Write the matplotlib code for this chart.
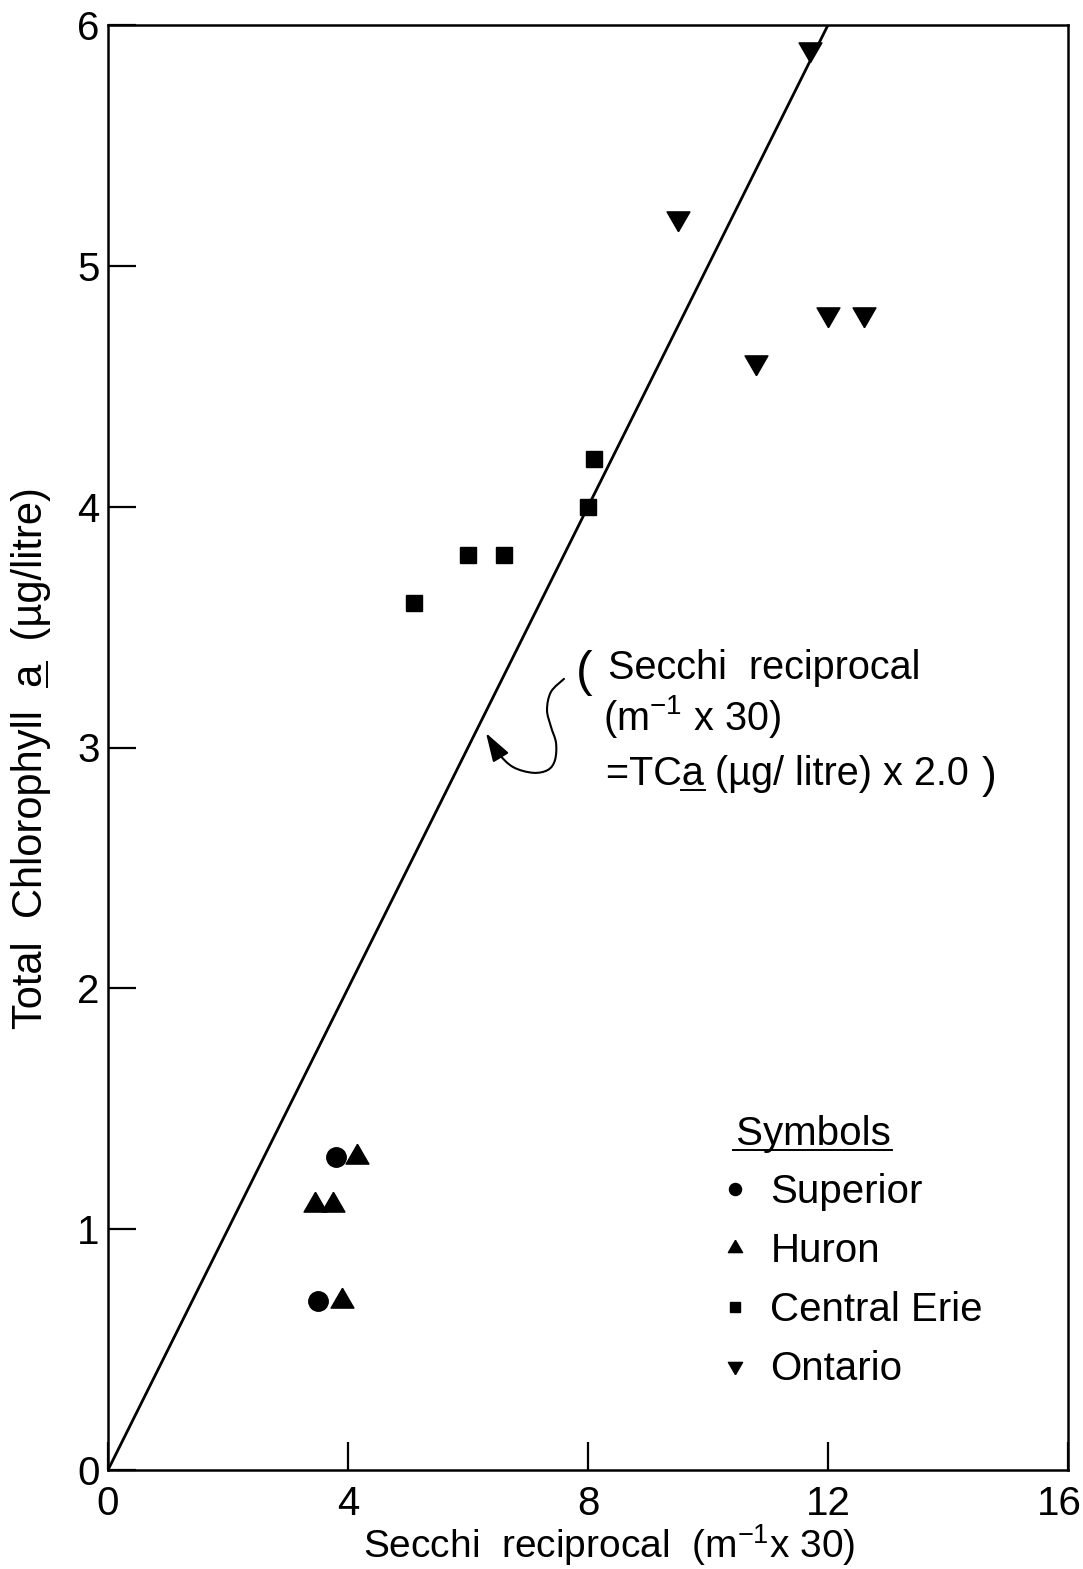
import matplotlib
matplotlib.use('Agg')
import matplotlib.pyplot as plt
import matplotlib.transforms as mtransforms
import numpy as np
from matplotlib.path import Path
from matplotlib.patches import FancyArrowPatch
from matplotlib.lines import Line2D

plt.rcParams['font.family'] = ['Liberation Sans', 'DejaVu Sans']
plt.rcParams['mathtext.fontset'] = 'custom'
plt.rcParams['mathtext.rm'] = 'Liberation Sans'
plt.rcParams['mathtext.it'] = 'Liberation Sans:italic'
plt.rcParams['mathtext.default'] = 'regular'

# ---------------- data ----------------
superior_x = [3.5, 3.8]
superior_y = [0.7, 1.3]
huron_x = [3.9, 4.15, 3.45, 3.75]
huron_y = [0.7, 1.3, 1.1, 1.1]
erie_x = [5.1, 6.0, 6.6, 8.0, 8.1]
erie_y = [3.6, 3.8, 3.8, 4.0, 4.2]
ontario_x = [11.7, 9.5, 10.8, 12.0, 12.6]
ontario_y = [5.9, 5.2, 4.6, 4.8, 4.8]
fit_x = [0, 16]
fit_ratio = 2.0           # Secchi reciprocal = TCa * 2.0
x_ticks = [0, 4, 8, 12, 16]
y_ticks = [0, 1, 2, 3, 4, 5, 6]
labels = ['Superior', 'Huron', 'Central Erie', 'Ontario']

W, H = 1083, 1569
fig = plt.figure(figsize=(W / 100, H / 100), dpi=100)
ax = fig.add_axes([108 / W, 1 - 1470 / H, 960 / W, 1445 / H])
ax.set_xlim(0, 16)
ax.set_ylim(0, 6)

up_tri = [(0, 1), (-0.866, -0.5), (0.866, -0.5), (0, 1)]
down_tri = [(0, -1), (-0.866, 0.5), (0.866, 0.5), (0, -1)]

ax.plot(fit_x, [v / fit_ratio for v in fit_x], color='black', lw=2.0, zorder=2)
ax.plot(superior_x, superior_y, 'o', color='black', ms=14, ls='none', label=labels[0], zorder=3)
ax.plot(huron_x, huron_y, marker=up_tri, color='black', ms=19, ls='none', label=labels[1], zorder=3)
ax.plot(erie_x, erie_y, 's', color='black', ms=11, ls='none', label=labels[2], zorder=3)
ax.plot(ontario_x, ontario_y, marker=down_tri, color='black', ms=19, ls='none', label=labels[3], zorder=3)

ax.set_xticks(x_ticks)
ax.set_yticks(y_ticks)
ax.set_xticklabels([str(t) for t in x_ticks])
ax.set_yticklabels([str(t) for t in y_ticks])
ax.tick_params(axis='both', direction='in', length=20, width=1.6, labelsize=29,
               top=False, right=False)
ax.tick_params(axis='x', pad=11)
ax.tick_params(axis='y', pad=6)
for s in ax.spines.values():
    s.set_linewidth(1.8)
# last x tick label sits slightly left of its tick in the original
last = ax.get_xticklabels()[-1]
last.set_transform(last.get_transform() + mtransforms.ScaledTranslation(-9 / 100, 0, fig.dpi_scale_trans))

ax.set_xlabel('Secchi  reciprocal  (m$^{-1}$x 30)', fontsize=28)
ax.xaxis.set_label_coords(0.522, -0.036)
ylab = ax.set_ylabel('Total  Chlorophyll  a  (µg/litre)', fontsize=30)
ax.yaxis.set_label_coords(-0.059, 0.493)

leg = ax.legend(loc='upper left', bbox_to_anchor=(0.643, 0.246), frameon=False,
                title=' Symbols', title_fontsize=29, fontsize=29, handlelength=0.5,
                handletextpad=0.62, labelspacing=0.52, borderpad=0, borderaxespad=0,
                alignment='left', markerscale=0.62)

# annotation
ax.text(7.93, 3.31, '(', fontsize=36, ha='center', va='center')
ax.text(8.33, 3.33, 'Secchi  reciprocal', fontsize=28.5, ha='left', va='center')
ax.text(8.25, 3.13, '(m$^{-1}$ x 30)', fontsize=28.5, ha='left', va='center')
eq = ax.text(8.3, 2.89, '=TCa (µg/ litre) x 2.0', fontsize=28.5, ha='left', va='center')
ax.text(14.68, 2.88, ')', fontsize=32, ha='center', va='center')

curve_pts = np.array([(7.6, 3.285), (7.383, 3.231), (7.317, 3.156), (7.383, 3.086),
                      (7.467, 3.019), (7.45, 2.948), (7.333, 2.907), (7.083, 2.895),
                      (6.75, 2.919), (6.5, 2.978), (6.3, 3.06)])
# Catmull-Rom to cubic Bezier (display smoothing of the hand-drawn arrow)
disp = ax.transData.transform(curve_pts)
inv = ax.transData.inverted()
verts = [tuple(curve_pts[0])]
codes = [Path.MOVETO]
n = len(disp)
for i in range(n - 1):
    p0 = disp[max(i - 1, 0)]
    p1 = disp[i]
    p2 = disp[i + 1]
    p3 = disp[min(i + 2, n - 1)]
    c1 = p1 + (p2 - p0) / 6
    c2 = p2 - (p3 - p1) / 6
    verts += [tuple(inv.transform(c1)), tuple(inv.transform(c2)), tuple(curve_pts[i + 1])]
    codes += [Path.CURVE4] * 3
arrow = FancyArrowPatch(path=Path(verts, codes), arrowstyle='-|>,head_length=1.1,head_width=0.35',
                        mutation_scale=16, color='black', lw=1.5, transform=ax.transData)
ax.add_patch(arrow)

# underlines
fig.canvas.draw()
r = fig.canvas.get_renderer()


def fig_line(x0, y0, x1, y1, lw=1.4):
    fig.add_artist(Line2D([x0 / W, x1 / W], [y0 / H, y1 / H], transform=fig.transFigure,
                          color='black', lw=lw))


def baseline_of(t):
    prop = t.get_fontproperties()
    bb = t.get_window_extent(r)
    _, _, dtxt = r.get_text_width_height_descent(t.get_text(), prop, ismath=False)
    _, _, dlp = r.get_text_width_height_descent('lp', prop, ismath=False)
    return bb, max(dtxt, dlp)


bb, d = baseline_of(eq)
prop = eq.get_fontproperties()
wfull, _, _ = r.get_text_width_height_descent('=TCa', prop, ismath=False)
wch, _, _ = r.get_text_width_height_descent('a', prop, ismath=False)
yl = bb.y0 + d - 5
fig_line(bb.x0 + wfull - wch - 1, yl, bb.x0 + wfull + 1, yl)

title = leg.get_title()
bb, d = baseline_of(title)
yl = bb.y0 + d - 5
fig_line(bb.x0 + 8, yl, bb.x1 + 1, yl)

# rotated y label underline
prop = ylab.get_fontproperties()
bb = ylab.get_window_extent(r)
wfull, _, _ = r.get_text_width_height_descent('Total  Chlorophyll  a', prop, ismath=False)
wch, _, _ = r.get_text_width_height_descent('a', prop, ismath=False)
_, _, dtxt = r.get_text_width_height_descent(ylab.get_text(), prop, ismath=False)
_, _, dlp = r.get_text_width_height_descent('lp', prop, ismath=False)
xb = bb.x1 - max(dtxt, dlp) + 5
fig_line(xb, bb.y0 + wfull - wch - 1, xb, bb.y0 + wfull + 1)

fig.savefig('out.png', dpi=100)
